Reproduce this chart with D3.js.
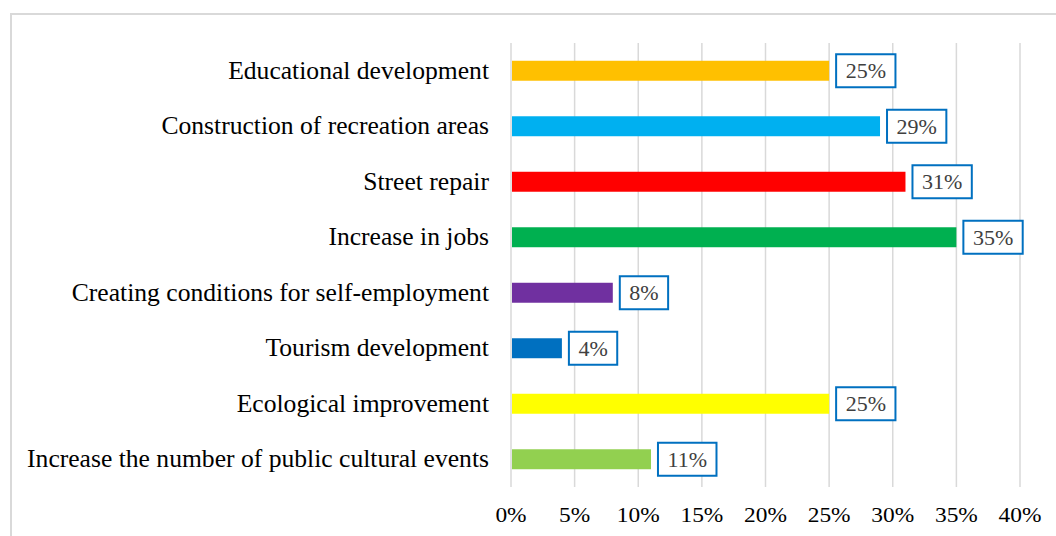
<!DOCTYPE html>
<html>
<head>
<meta charset="utf-8">
<script src="https://cdn.jsdelivr.net/npm/d3@7"></script>
<style>
  body { margin: 0; background: #fff; }
</style>
</head>
<body>
<div id="chart"></div>
<script>
var categories = [
  "Educational development",
  "Construction of recreation areas",
  "Street repair",
  "Increase in jobs",
  "Creating conditions for self-employment",
  "Tourism development",
  "Ecological improvement",
  "Increase the number of public cultural events"
]
var values = [25, 29, 31, 35, 8, 4, 25, 11]
var barColors = ["#FFC000", "#00B0F0", "#FF0000", "#00B050", "#7030A0", "#0070C0", "#FFFF00", "#92D050"]
var ticks = [0, 5, 10, 15, 20, 25, 30, 35, 40]

var width = 1056, height = 536
var font = "'Liberation Serif', 'Times New Roman', Times, 'DejaVu Serif', serif"

var svg = d3.select("#chart")
  .append("svg")
  .attr("width", width)
  .attr("height", height)
  .attr("font-family", font)

// chart frame (runs off the right and bottom)
svg.append("rect")
  .attr("x", 11)
  .attr("y", 14)
  .attr("width", 1060)
  .attr("height", 540)
  .attr("fill", "none")
  .attr("stroke", "#d9d9d9")
  .attr("stroke-width", 2)

var x = d3.scaleLinear().domain([0, 40]).range([511, 1020])
var y = d3.scaleBand().domain(categories).range([43, 487])
  .paddingInner(0.64).paddingOuter(0.32)

// gridlines
svg.append("g")
  .selectAll("line")
  .data(ticks)
  .enter()
  .append("line")
  .attr("x1", function(d) { return x(d) })
  .attr("x2", function(d) { return x(d) })
  .attr("y1", 43)
  .attr("y2", 487)
  .attr("stroke", "#d9d9d9")
  .attr("stroke-width", 1.5)

// x tick labels (glyphs are a bit wider than plain Times in the original)
svg.append("g")
  .selectAll("text")
  .data(ticks)
  .enter()
  .append("text")
  .attr("transform", function(d) { return "translate(" + x(d) + ",522) scale(1.17,1)" })
  .attr("text-anchor", "middle")
  .attr("font-size", 20)
  .attr("fill", "#000")
  .text(function(d) { return d + "%" })

// category labels
svg.append("g")
  .selectAll("text")
  .data(categories)
  .enter()
  .append("text")
  .attr("x", 489)
  .attr("y", function(d) { return y(d) + y.bandwidth() / 2 + 8 })
  .attr("text-anchor", "end")
  .attr("font-size", 25.6)
  .attr("fill", "#000")
  .text(function(d) { return d })

var rows = categories.map(function(c, i) {
  return { cat: c, value: values[i], color: barColors[i] }
})

// bars
svg.append("g")
  .selectAll("rect")
  .data(rows)
  .enter()
  .append("rect")
  .attr("x", x(0) + 1)
  .attr("y", function(d) { return y(d.cat) })
  .attr("width", function(d) { return x(d.value) - x(0) - 1 })
  .attr("height", y.bandwidth())
  .attr("fill", function(d) { return d.color })

// data labels with boxes
var lab = svg.append("g")
  .selectAll("g")
  .data(rows)
  .enter()
  .append("g")
  .attr("transform", function(d) {
    return "translate(" + (x(d.value) + 7) + "," + (y(d.cat) + y.bandwidth() / 2) + ")"
  })

lab.append("text")
  .attr("x", 9.5)
  .attr("y", 7.5)
  .attr("font-size", 22)
  .attr("fill", "#404040")
  .text(function(d) { return d.value + "%" })
  .each(function(d) {
    d.tw = this.getComputedTextLength()
  })

lab.insert("rect", "text")
  .attr("x", 0)
  .attr("y", -16.5)
  .attr("width", function(d) { return d.tw + 19 })
  .attr("height", 33)
  .attr("fill", "#fff")
  .attr("stroke", "#0070C0")
  .attr("stroke-width", 2)
</script>
</body>
</html>
